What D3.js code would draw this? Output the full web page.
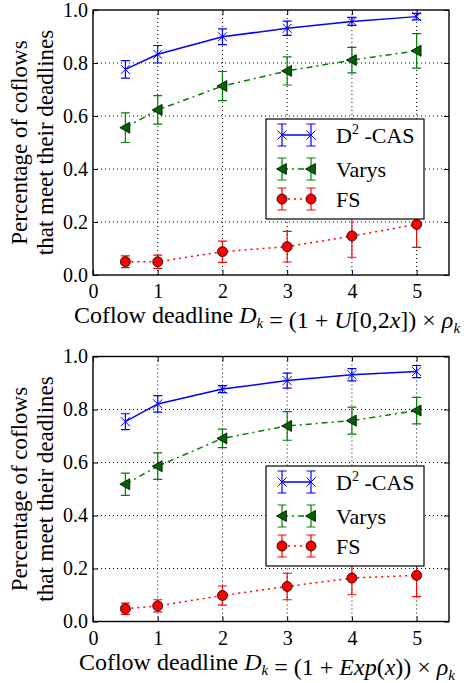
<!DOCTYPE html>
<html>
<head>
<meta charset="utf-8">
<script src="https://cdn.jsdelivr.net/npm/d3@7"></script>
<style>
  body { margin: 0; background: #fff; }
  svg text { font-family: "Liberation Serif", "Times New Roman", serif; fill: #000; }
</style>
</head>
<body>
<div class="chart"></div>
<script>
var svgWidth = 467;
var svgHeight = 683;

// x positions (deadline factor x)
var xVals = [0.5, 1, 2, 3, 4, 5];
var xTicks = [0, 1, 2, 3, 4, 5];
var yTicks = [0.0, 0.2, 0.4, 0.6, 0.8, 1.0];
var seriesNames = ["D2-CAS", "Varys", "FS"];

// top panel: U[0,2x]
var casTop = [0.776, 0.833, 0.899, 0.931, 0.957, 0.975];
var casTopErr = [0.033, 0.033, 0.030, 0.027, 0.015, 0.012];
var varysTop = [0.556, 0.623, 0.713, 0.770, 0.811, 0.846];
var varysTopErr = [0.056, 0.054, 0.055, 0.053, 0.048, 0.065];
var fsTop = [0.050, 0.050, 0.088, 0.107, 0.147, 0.191];
var fsTopErr = [0.022, 0.025, 0.040, 0.058, 0.080, 0.087];

// bottom panel: Exp(x)
var casBot = [0.754, 0.821, 0.877, 0.909, 0.931, 0.943];
var casBotErr = [0.030, 0.031, 0.013, 0.028, 0.023, 0.023];
var varysBot = [0.518, 0.586, 0.691, 0.738, 0.758, 0.796];
var varysBotErr = [0.042, 0.050, 0.035, 0.054, 0.051, 0.050];
var fsBot = [0.048, 0.059, 0.098, 0.132, 0.164, 0.174];
var fsBotErr = [0.021, 0.023, 0.036, 0.050, 0.063, 0.080];

var FONT = "'Liberation Serif', 'Times New Roman', serif";

var styles = [
  { color: "#0000ff", marker: "x", dash: null },
  { color: "#008000", marker: "tri", dash: "6,4,2,4", fill: "#006400" },
  { color: "#ff0000", marker: "circle", dash: "2,4", fill: "#ff0000" }
];

var svg = d3.select(".chart")
  .append("svg")
  .attr("width", svgWidth)
  .attr("height", svgHeight)
  .attr("font-family", FONT);

function drawMarker(g, style, cx, cy) {
  if (style.marker === "x") {
    var s = 4.5;
    g.append("path")
      .attr("d", `M${cx - s},${cy - s}L${cx + s},${cy + s}M${cx - s},${cy + s}L${cx + s},${cy - s}`)
      .attr("stroke", style.color)
      .attr("stroke-width", 1);
  } else if (style.marker === "tri") {
    var t = 5.5;
    g.append("path")
      .attr("d", `M${cx - t},${cy}L${cx + t * 0.8},${cy - t}L${cx + t * 0.8},${cy + t}Z`)
      .attr("fill", style.fill)
      .attr("stroke", "#000")
      .attr("stroke-width", 0.8);
  } else {
    g.append("circle")
      .attr("cx", cx).attr("cy", cy).attr("r", 5)
      .attr("fill", style.fill)
      .attr("stroke", "#000")
      .attr("stroke-width", 0.8);
  }
}

function drawErr(g, color, cx, y1, y2) {
  var c = 4.5;
  g.append("path")
    .attr("d", `M${cx},${y1}L${cx},${y2}M${cx - c},${y1}L${cx + c},${y1}M${cx - c},${y2}L${cx + c},${y2}`)
    .attr("stroke", color)
    .attr("stroke-width", 1.2)
    .attr("fill", "none");
}

function drawPanel(top, series, errs, legendTop, xlabelFn) {
  var left = 93, right = 449, bottom = top + 265;
  var x = d3.scaleLinear().domain([0, 5.5]).range([left, right]);
  var y = d3.scaleLinear().domain([0, 1]).range([bottom, top]);
  var g = svg.append("g");

  // grid
  g.selectAll(".gx").data(xTicks.slice(1)).enter().append("line")
    .attr("x1", d => x(d)).attr("x2", d => x(d))
    .attr("y1", top).attr("y2", bottom)
    .attr("stroke", "#000").attr("stroke-width", 1)
    .attr("stroke-dasharray", "1,3");
  g.selectAll(".gy").data(yTicks.slice(1, 5)).enter().append("line")
    .attr("y1", d => y(d)).attr("y2", d => y(d))
    .attr("x1", left).attr("x2", right)
    .attr("stroke", "#000").attr("stroke-width", 1)
    .attr("stroke-dasharray", "1,3");

  // series
  series.forEach(function(vals, i) {
    var st = styles[i];
    var line = d3.line().x((d, j) => x(xVals[j])).y(d => y(d));
    g.append("path")
      .datum(vals)
      .attr("d", line)
      .attr("fill", "none")
      .attr("stroke", st.color)
      .attr("stroke-width", 1.5)
      .attr("stroke-dasharray", st.dash);
    vals.forEach(function(v, j) {
      drawErr(g, st.color, x(xVals[j]), y(v + errs[i][j]), y(v - errs[i][j]));
    });
    vals.forEach(function(v, j) {
      drawMarker(g, st, x(xVals[j]), y(v));
    });
  });

  // axes (classic style, inward ticks on all sides)
  var bottomAxis = d3.axisBottom(x).tickValues(xTicks).tickSize(-5).tickFormat(d3.format("d"));
  var topAxis = d3.axisTop(x).tickValues(xTicks).tickSize(-5).tickFormat("");
  var leftAxis = d3.axisLeft(y).tickValues(yTicks).tickSize(-5).tickFormat(d3.format(".1f"));
  var rightAxis = d3.axisRight(y).tickValues(yTicks).tickSize(-5).tickFormat("");

  var ax = [
    g.append("g").attr("transform", `translate(0,${bottom})`).call(bottomAxis),
    g.append("g").attr("transform", `translate(0,${top})`).call(topAxis),
    g.append("g").attr("transform", `translate(${left},0)`).call(leftAxis),
    g.append("g").attr("transform", `translate(${right},0)`).call(rightAxis)
  ];
  ax.forEach(function(a) {
    a.attr("font-family", FONT).attr("font-size", 20);
    a.select(".domain").remove();
    a.selectAll("line").attr("stroke", "#000");
    a.selectAll("text").attr("fill", "#000");
  });
  ax[0].selectAll("text").attr("y", 9);
  ax[2].selectAll("text").attr("x", -5);

  g.append("rect")
    .attr("x", left).attr("y", top)
    .attr("width", right - left).attr("height", bottom - top)
    .attr("fill", "none").attr("stroke", "#000").attr("stroke-width", 1.4);

  // legend
  var lx = 266, lw = 158, lh = 100;
  var lg = g.append("g");
  lg.append("rect")
    .attr("x", lx).attr("y", legendTop)
    .attr("width", lw).attr("height", lh)
    .attr("fill", "#fff").attr("stroke", "#000").attr("stroke-width", 1.2);
  var rowY = [16, 50, 80];
  styles.forEach(function(st, i) {
    var ry = legendTop + rowY[i];
    var h1 = lx + 16, h2 = lx + 45;
    lg.append("line")
      .attr("x1", h1).attr("x2", h2).attr("y1", ry).attr("y2", ry)
      .attr("stroke", st.color).attr("stroke-width", 1.5)
      .attr("stroke-dasharray", st.dash);
    [h1, h2].forEach(function(hx) {
      drawErr(lg, st.color, hx, ry - 11, ry + 11);
      drawMarker(lg, st, hx, ry);
    });
    var t = lg.append("text")
      .attr("x", lx + 70).attr("y", ry + 8)
      .attr("font-size", 22);
    if (i === 0) {
      t.append("tspan").text("D");
      t.append("tspan").attr("dy", -9).attr("font-size", 14).text("2");
      t.append("tspan").attr("dy", 9).text(" -CAS");
    } else {
      t.text(seriesNames[i]);
    }
  });

  // y label
  var cy = (top + bottom) / 2;
  g.append("text")
    .attr("transform", `translate(27,${cy}) rotate(-90)`)
    .attr("text-anchor", "middle")
    .attr("font-size", 23)
    .text("Percentage of coflows");
  g.append("text")
    .attr("transform", `translate(53,${cy}) rotate(-90)`)
    .attr("text-anchor", "middle")
    .attr("font-size", 23)
    .text("that meet their deadlines");

  // x label
  var xl = g.append("text")
    .attr("x", 267)
    .attr("y", bottom + 48)
    .attr("text-anchor", "middle")
    .attr("font-size", 24);
  xlabelFn(xl);
}

function sub(t, s) {
  t.append("tspan").attr("dy", 5).attr("font-size", 15).attr("font-style", "italic").text(s);
  t.append("tspan").attr("dy", -5).text("");
}

drawPanel(10,
  [casTop, varysTop, fsTop],
  [casTopErr, varysTopErr, fsTopErr],
  119,
  function(t) {
    t.append("tspan").text("Coflow deadline ");
    t.append("tspan").attr("font-style", "italic").text("D");
    sub(t, "k");
    t.append("tspan").text(" = (1 + ");
    t.append("tspan").attr("font-style", "italic").text("U");
    t.append("tspan").text("[0,2");
    t.append("tspan").attr("font-style", "italic").text("x");
    t.append("tspan").text("])  × ");
    t.append("tspan").attr("font-style", "italic").text("ρ");
    sub(t, "k");
  });

drawPanel(356.5,
  [casBot, varysBot, fsBot],
  [casBotErr, varysBotErr, fsBotErr],
  466,
  function(t) {
    t.append("tspan").text("Coflow deadline ");
    t.append("tspan").attr("font-style", "italic").text("D");
    sub(t, "k");
    t.append("tspan").text(" = (1 + ");
    t.append("tspan").attr("font-style", "italic").text("Exp");
    t.append("tspan").text("(");
    t.append("tspan").attr("font-style", "italic").text("x");
    t.append("tspan").text("))  × ");
    t.append("tspan").attr("font-style", "italic").text("ρ");
    sub(t, "k");
  });
</script>
</body>
</html>
